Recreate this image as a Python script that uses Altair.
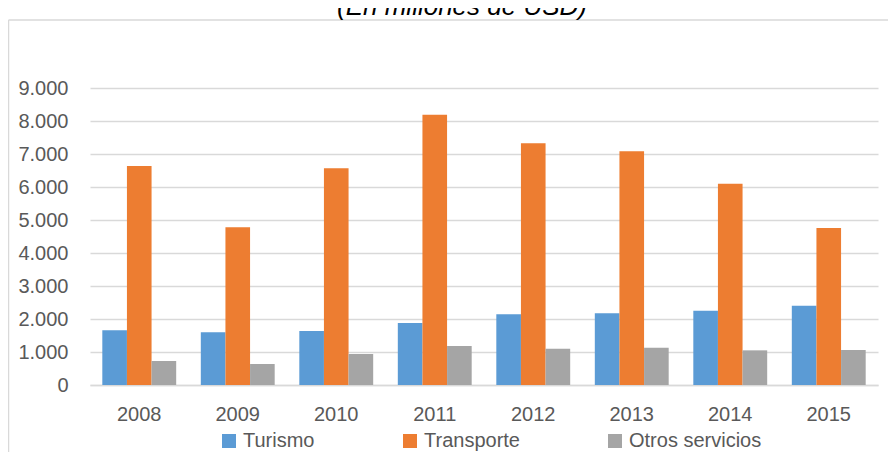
import altair as alt
import pandas as pd

years = ["2008", "2009", "2010", "2011", "2012", "2013", "2014", "2015"]
series = ["Turismo", "Transporte", "Otros servicios"]
colors = ["#5B9BD5", "#ED7D31", "#A5A5A5"]
turismo = [1657, 1596, 1636, 1879, 2141, 2172, 2253, 2404]
transporte = [6636, 4778, 6566, 8192, 7323, 7081, 6101, 4758]
otros = [727, 636, 939, 1182, 1101, 1131, 1050, 1061]
y_ticks = [0, 1000, 2000, 3000, 4000, 5000, 6000, 7000, 8000, 9000]
title_text = "(En millones de USD)"

rows = []
for name, vals in zip(series, [turismo, transporte, otros]):
    for yr, v in zip(years, vals):
        rows.append({"year": yr, "serie": name, "value": v})
df = pd.DataFrame(rows)

FONT = "Liberation Sans"
GRID = "#d9d9d9"
LBL = "#595959"

bars = alt.Chart(df).mark_bar().encode(
    x=alt.X("year:N", sort=years,
            scale=alt.Scale(paddingInner=0.25, paddingOuter=0.125),
            axis=alt.Axis(title=None, labelAngle=0, ticks=False, domain=True,
                          domainColor=GRID, domainWidth=1.5,
                          labelFont=FONT, labelFontSize=20, labelColor=LBL,
                          labelPadding=19)),
    xOffset=alt.XOffset("serie:N", sort=series,
                        scale=alt.Scale(paddingInner=0, paddingOuter=0)),
    y=alt.Y("value:Q", scale=alt.Scale(domain=[0, 9000], nice=False),
            axis=alt.Axis(title=None, values=y_ticks, domain=False, ticks=False,
                          grid=True, gridColor=GRID, gridWidth=1.5,
                          labelFont=FONT, labelFontSize=20, labelColor=LBL,
                          labelPadding=22,
                          labelExpr="replace(format(datum.value, ',d'), ',', '.')")),
    color=alt.Color("serie:N", sort=series,
                    scale=alt.Scale(domain=series, range=colors),
                    legend=alt.Legend(title=None, orient="none", legendX=129, legendY=343,
                                      direction="horizontal", columnPadding=85,
                                      symbolType="square", symbolSize=196,
                                      symbolStrokeWidth=0, labelOffset=4,
                                      labelFont=FONT, labelFontSize=20,
                                      labelColor=LBL)),
)

frame_top = alt.Chart().mark_rule(color=GRID, strokeWidth=1.5).encode(
    x=alt.value(-81.5), x2=alt.value(820), y=alt.value(-68))
frame_left = alt.Chart().mark_rule(color=GRID, strokeWidth=1.5).encode(
    x=alt.value(-81.5), y=alt.value(-68), y2=alt.value(380))

title = alt.Chart().mark_text(font=FONT, fontSize=26, fontStyle="italic",
                              color="#000000", baseline="middle", align="center").encode(
    x=alt.value(372), y=alt.value(-81), text=alt.value(title_text))

chart = alt.layer(frame_top, frame_left, title, bars).properties(
    width=788, height=297,
    padding={"left": 82, "top": 80, "right": 10, "bottom": 67},
    autosize="none",
).configure_view(stroke=None)

chart.save("out.html", embed_options={"renderer": "svg", "actions": False})
